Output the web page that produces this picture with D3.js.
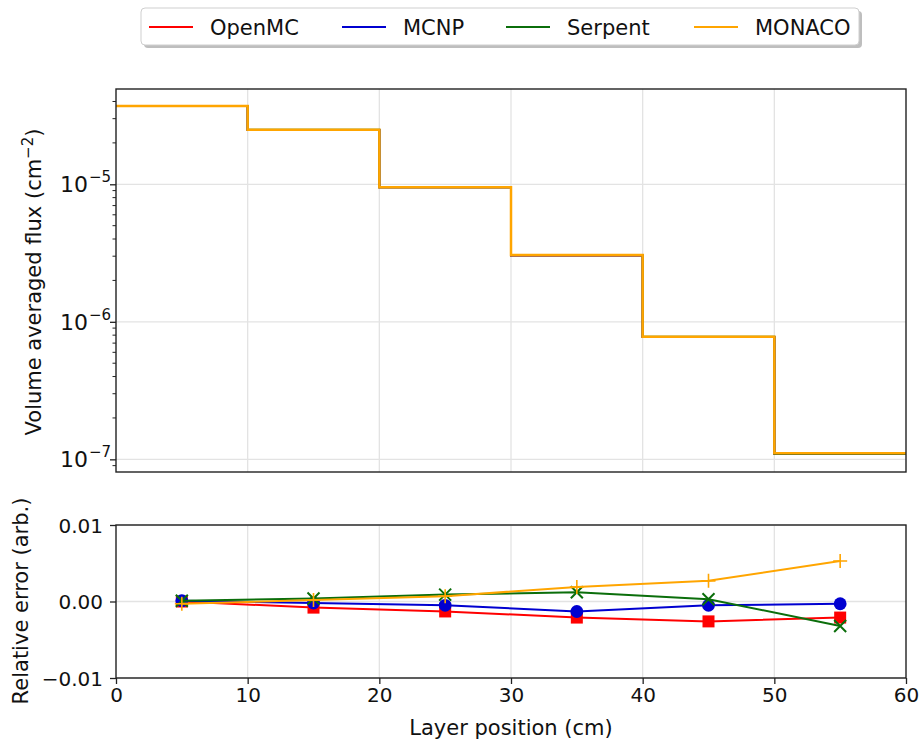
<!DOCTYPE html>
<html><head><meta charset="utf-8">
<script src="https://cdn.jsdelivr.net/npm/d3@7"></script>
<style>body{margin:0;background:#fff} text{font-family:"DejaVu Sans",sans-serif;fill:#111}</style>
</head><body><svg id="c" width="921" height="742"></svg>
<script>
// ---- data ----
const layerEdges = [0, 10, 20, 30, 40, 50, 60];
const layerCenters = [5, 15, 25, 35, 45, 55];
const codes = ["OpenMC", "MCNP", "Serpent", "MONACO"];
const codeColors = ["#ff0000", "#0000d0", "#0b6e0b", "#ffa500"];
const fluxOpenMC  = [3.71e-5, 2.48e-5, 9.50e-6, 3.04e-6, 7.76e-7, 1.098e-7];
const fluxMCNP    = [3.71e-5, 2.48e-5, 9.51e-6, 3.045e-6, 7.77e-7, 1.10e-7];
const fluxSerpent = [3.71e-5, 2.49e-5, 9.53e-6, 3.054e-6, 7.78e-7, 1.096e-7];
const fluxMONACO  = [3.71e-5, 2.49e-5, 9.52e-6, 3.056e-6, 7.80e-7, 1.106e-7];
const errOpenMC  = [0.0000, -0.0008, -0.0013, -0.0021, -0.0026, -0.0021];
const errMCNP    = [0.0001, -0.0002, -0.0005, -0.0013, -0.0005, -0.0003];
const errSerpent = [0.0001, 0.0004, 0.0009, 0.0012, 0.0003, -0.0032];
const errMONACO  = [-0.0003, 0.0002, 0.0007, 0.0019, 0.0027, 0.0053];
const fluxTicks = [1e-7, 1e-6, 1e-5];
const fluxTickExp = ["−7", "−6", "−5"];
const fluxMinorTicks = [9e-8, 2e-7, 3e-7, 4e-7, 5e-7, 6e-7, 7e-7, 8e-7, 9e-7,
  2e-6, 3e-6, 4e-6, 5e-6, 6e-6, 7e-6, 8e-6, 9e-6, 2e-5, 3e-5, 4e-5];
const xTicks = [0, 10, 20, 30, 40, 50, 60];
const errTicks = [-0.01, 0, 0.01];
const errTickLabels = ["−0.01", "0.00", "0.01"];

const fluxSeries = [fluxOpenMC, fluxMCNP, fluxSerpent, fluxMONACO];
const errSeries = [errOpenMC, errMCNP, errSerpent, errMONACO];

// ---- layout ----
const svg = d3.select("#c");
const L = 116, R = 906;
const topT = 89, topB = 472, botT = 525, botB = 678;
const x = d3.scaleLinear([0, 60], [L, R]);
const yTop = d3.scaleLog([8.09e-8, 4.93e-5], [topB, topT]);
const yBot = d3.scaleLinear([-0.01, 0.01], [botB, botT]);
const gridCol = "#e3e3e3", axisCol = "#222";

// grids
const gTop = svg.append("g");
gTop.selectAll(".gx").data(xTicks.slice(1, -1)).join("line")
  .attr("x1", d => x(d)).attr("x2", d => x(d)).attr("y1", topT).attr("y2", topB)
  .attr("stroke", gridCol).attr("stroke-width", 1.3);
gTop.selectAll(".gy").data(fluxTicks).join("line")
  .attr("x1", L).attr("x2", R).attr("y1", d => yTop(d)).attr("y2", d => yTop(d))
  .attr("stroke", gridCol).attr("stroke-width", 1.3);
const gBot = svg.append("g");
gBot.selectAll(".gx").data(xTicks.slice(1, -1)).join("line")
  .attr("x1", d => x(d)).attr("x2", d => x(d)).attr("y1", botT).attr("y2", botB)
  .attr("stroke", gridCol).attr("stroke-width", 1.3);
gBot.selectAll(".gy").data(errTicks).join("line")
  .attr("x1", L).attr("x2", R).attr("y1", d => yBot(d)).attr("y2", d => yBot(d))
  .attr("stroke", gridCol).attr("stroke-width", 1.3);

// step lines
const stepLine = d3.line().x(d => x(d[0])).y(d => yTop(d[1])).curve(d3.curveStepAfter);
fluxSeries.forEach((vals, i) => {
  const pts = vals.map((v, j) => [layerEdges[j], v]);
  pts.push([layerEdges[layerEdges.length - 1], vals[vals.length - 1]]);
  svg.append("path").attr("d", stepLine(pts)).attr("fill", "none")
    .attr("stroke", codeColors[i]).attr("stroke-width", i === 3 ? 2.5 : 2);
});

// error lines + markers
const errLine = d3.line().x((d, j) => x(layerCenters[j])).y(d => yBot(d));
const markerPaths = [
  d3.symbol(d3.symbolSquare, 144)(),
  d3.symbol(d3.symbolCircle, 130)(),
  "M-6,-6L6,6M-6,6L6,-6",
  "M-7,0H7M0,-7V7"
];
errSeries.forEach((vals, i) => {
  svg.append("path").attr("d", errLine(vals)).attr("fill", "none")
    .attr("stroke", codeColors[i]).attr("stroke-width", 2);
  const g = svg.append("g");
  g.selectAll("path").data(vals).join("path")
    .attr("transform", (d, j) => `translate(${x(layerCenters[j])},${yBot(d)})`)
    .attr("d", markerPaths[i])
    .attr("fill", i < 2 ? codeColors[i] : "none")
    .attr("stroke", i < 2 ? "none" : codeColors[i])
    .attr("stroke-width", i === 2 ? 2 : 1.6);
});

// spines
[[topT, topB], [botT, botB]].forEach(([t, b]) => {
  svg.append("rect").attr("x", L).attr("y", t).attr("width", R - L).attr("height", b - t)
    .attr("fill", "none").attr("stroke", axisCol).attr("stroke-width", 1.4);
});

// top y axis
const axTop = svg.append("g").attr("transform", `translate(${L},0)`)
  .call(d3.axisLeft(yTop).tickValues(fluxTicks).tickFormat("").tickSize(6).tickSizeOuter(0));
axTop.select(".domain").remove();
axTop.selectAll("line").attr("stroke", axisCol).attr("stroke-width", 1.3);
svg.append("g").selectAll("line").data(fluxMinorTicks).join("line")
  .attr("x1", L - 3.5).attr("x2", L).attr("y1", d => yTop(d)).attr("y2", d => yTop(d))
  .attr("stroke", axisCol).attr("stroke-width", 1);
svg.append("g").selectAll("text").data(fluxTicks).join("text")
  .attr("x", 88).attr("y", d => yTop(d) + 8).attr("text-anchor", "end")
  .style("font-size", "22px").text("10");
svg.append("g").selectAll("text").data(fluxTicks).join("text")
  .attr("x", 89).attr("y", d => yTop(d) - 2).attr("text-anchor", "start")
  .style("font-size", "15px").text((d, i) => fluxTickExp[i]);

// bottom y axis
const axBotY = svg.append("g").attr("transform", `translate(${L},0)`)
  .call(d3.axisLeft(yBot).tickValues(errTicks).tickFormat((d, i) => errTickLabels[i]).tickSize(6).tickSizeOuter(0));
axBotY.select(".domain").remove();
axBotY.selectAll("line").attr("stroke", axisCol).attr("stroke-width", 1.3);
axBotY.selectAll("text").style("font-size", "20px").attr("x", -13).attr("dy", "0.36em")
  .style("font-family", "DejaVu Sans").attr("fill", "#111");

// bottom x axis
const axBotX = svg.append("g").attr("transform", `translate(0,${botB})`)
  .call(d3.axisBottom(x).tickValues(xTicks).tickFormat(d3.format("d")).tickSize(6).tickSizeOuter(0));
axBotX.select(".domain").remove();
axBotX.selectAll("line").attr("stroke", axisCol).attr("stroke-width", 1.3);
axBotX.selectAll("text").style("font-size", "20px").attr("y", 10).attr("dy", "0.71em")
  .style("font-family", "DejaVu Sans").attr("fill", "#111");

// axis labels
svg.append("text").attr("x", 511).attr("y", 735).attr("text-anchor", "middle")
  .style("font-size", "21px").text("Layer position (cm)");
const yl = svg.append("text").attr("transform", "translate(41,282) rotate(-90)")
  .attr("text-anchor", "middle").style("font-size", "21px");
yl.append("tspan").text("Volume averaged flux (cm");
yl.append("tspan").attr("dy", -8).style("font-size", "15px").text("−2");
yl.append("tspan").attr("dy", 8).text(")");
svg.append("text").attr("transform", "translate(28,601) rotate(-90)")
  .attr("text-anchor", "middle").style("font-size", "21px").text("Relative error (arb.)");

// legend
const lg = svg.append("g");
lg.append("rect").attr("x", 144).attr("y", 11).attr("width", 718).attr("height", 37)
  .attr("rx", 4).attr("fill", "#888").attr("opacity", 0.55);
lg.append("rect").attr("x", 141).attr("y", 8).attr("width", 718).attr("height", 37)
  .attr("rx", 4).attr("fill", "#fff").attr("stroke", "#cfcfcf").attr("stroke-width", 1);
const legX = [149, 342, 506, 694];
codes.forEach((c, i) => {
  lg.append("line").attr("x1", legX[i]).attr("x2", legX[i] + 44).attr("y1", 27).attr("y2", 27)
    .attr("stroke", codeColors[i]).attr("stroke-width", 2);
  lg.append("text").attr("x", legX[i] + 61).attr("y", 34.5).style("font-size", "21px").text(c);
});
</script></body></html>
